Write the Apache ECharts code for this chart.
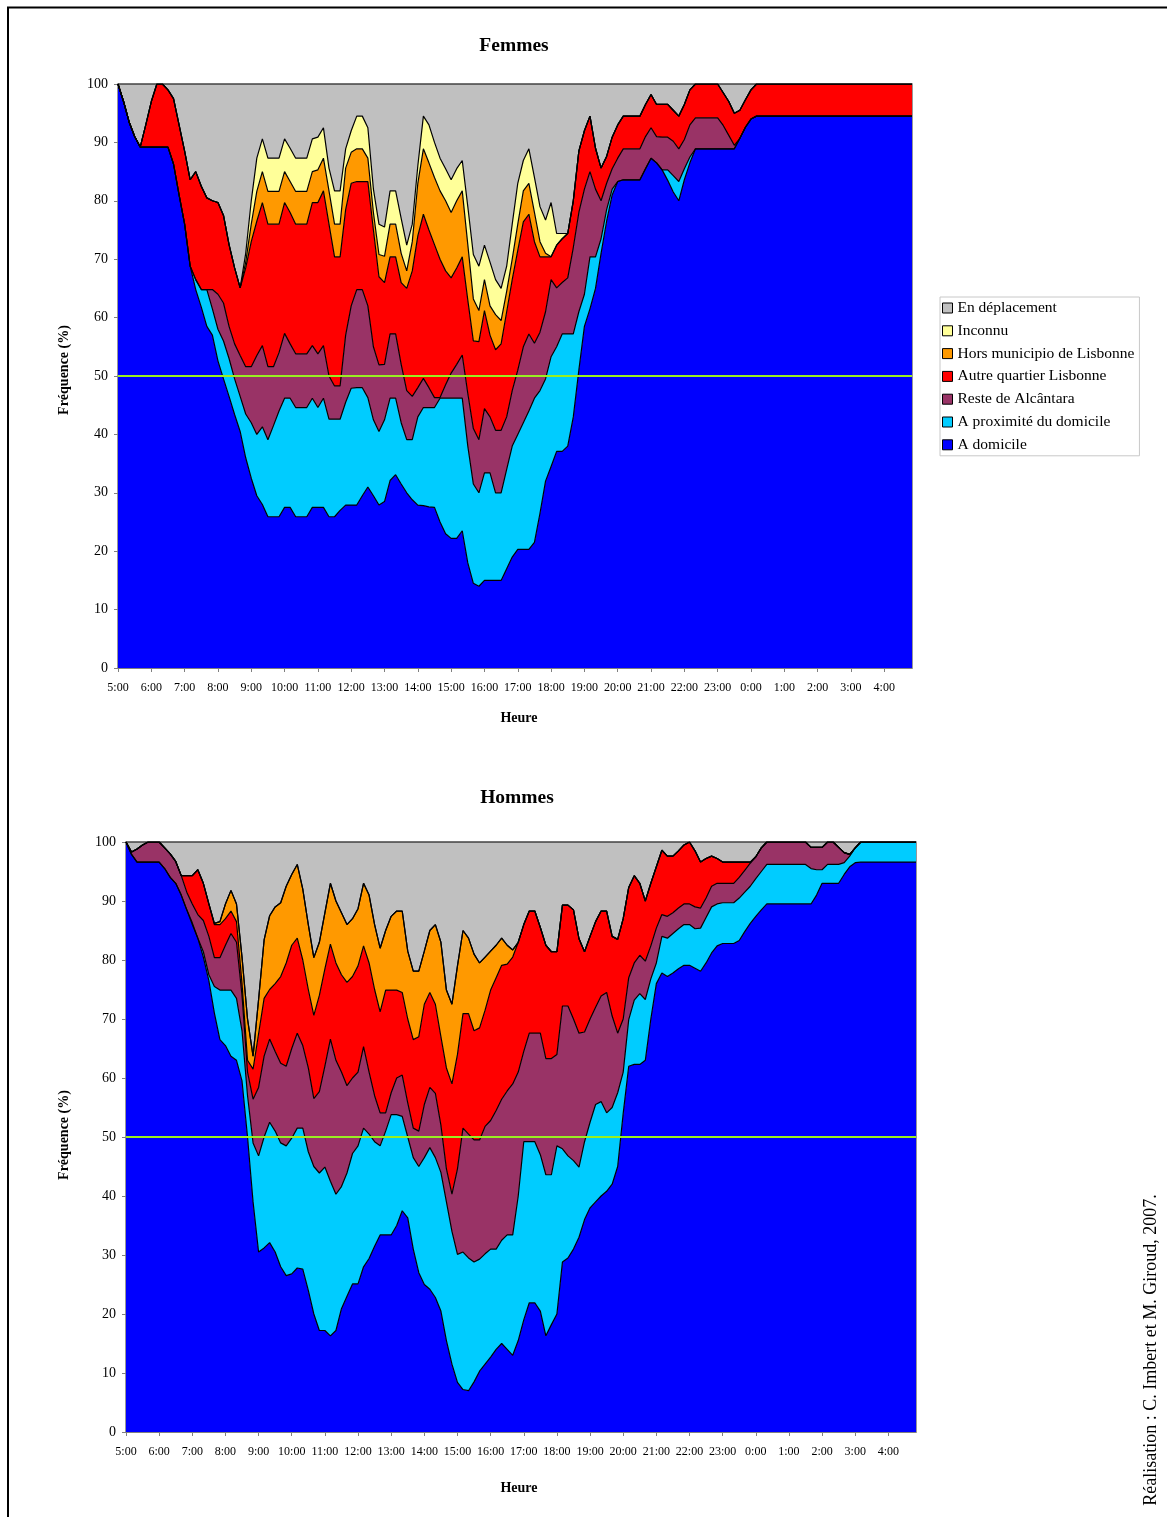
<!DOCTYPE html>
<html>
<head>
<meta charset="utf-8">
<script src="https://cdn.jsdelivr.net/npm/echarts@6/dist/echarts.min.js"></script>
<style>
html,body{margin:0;padding:0;background:#fff;}
#chart{width:1167px;height:1517px;}
</style>
</head>
<body>
<div id="chart"></div>
<script>
// ---- Categories (10-minute slots, 5:00 -> 4:50) ----
const hourLabels = ['5','6','7','8','9','10','11','12','13','14','15','16','17','18','19','20','21','22','23','0','1','2','3','4'];
const minuteSlots = ['00','10','20','30','40','50'];
const yTicks = [0,10,20,30,40,50,60,70,80,90,100];

const seriesNames = ['A domicile','A proximité du domicile','Reste de Alcântara','Autre quartier Lisbonne','Hors municipio de Lisbonne','Inconnu','En déplacement'];
const seriesColors = ['#0000FF','#00CCFF','#993366','#FF0000','#FF9900','#FFFF99','#C0C0C0'];

// ---- FEMMES: cumulative upper edge of each band (%) ----
const femmesDomicileTop = [100,97,93.5,91,89.2,89.2,89.2,89.2,89.2,89.2,
86.3,81,76,68.8,64.8,61.8,58.5,57,52.6,49.5,
46.5,43.4,40.5,36,32.5,29.5,28,25.9,25.9,25.9,
27.5,27.5,25.9,25.9,25.9,27.5,27.5,27.5,25.9,25.9,
27,27.9,27.9,27.9,29.5,31,29.5,27.9,28.5,32.1,
33.1,31.5,30,28.8,27.9,27.8,27.6,27.5,25,23,
22.2,22.2,23.5,18,14.5,14,15,15,15,15,
17,19,20.3,20.3,20.3,21.5,26.5,32,34.5,37.1,
37.1,38,43,51,58.5,61.5,65,71,76.5,81,
83.3,83.6,83.6,83.6,83.6,85.5,87.3,86.5,85.3,83.5,
81.5,80,83.6,86.5,88.9,88.9,88.9,88.9,88.9,88.9,
88.9,88.9,90.7,92.6,94,94.5,94.5,94.5,94.5,94.5,
94.5,94.5,94.5,94.5,94.5,94.5,94.5,94.5,94.5,94.5,
94.5,94.5,94.5,94.5,94.5,94.5,94.5,94.5,94.5,94.5,
94.5,94.5,94.5,94.5];
const femmesProximiteTop = [100,97,93.5,91,89.2,89.2,89.2,89.2,89.2,89.2,
86.3,81,76,68.8,66.5,64.8,64.8,61.5,58,56,
53,49.5,46.5,43.5,42,40,41.3,39.1,41.5,44,
46.2,46.2,44.6,44.6,44.6,46.2,44.6,46.2,42.6,42.6,
42.6,45.5,47.9,48,48,46.3,42.5,40.5,42.5,46.2,
46.2,42,39.1,39.1,43,44.6,44.6,44.6,46.2,46.2,
46.2,46.2,46.2,38,31.5,30,33.4,33.4,30,30,
34,38,40,42,44,46.2,47.5,49.5,53.3,55,
57.2,57.2,57.2,61,64,70.4,70.4,73.5,78.5,82,
83.3,83.6,83.6,83.6,83.6,85.5,87.3,86.5,85.3,85.3,
84.3,83.3,85.5,87.5,88.9,88.9,88.9,88.9,88.9,88.9,
88.9,88.9,90.7,92.6,94,94.5,94.5,94.5,94.5,94.5,
94.5,94.5,94.5,94.5,94.5,94.5,94.5,94.5,94.5,94.5,
94.5,94.5,94.5,94.5,94.5,94.5,94.5,94.5,94.5,94.5,
94.5,94.5,94.5,94.5];
const femmesResteTop = [100,97,93.5,91,89.2,89.2,89.2,89.2,89.2,89.2,
86.3,81,76,68.8,66.5,64.8,64.8,64.8,64,62.5,
58.5,55.5,53.5,51.6,51.6,53.5,55.2,51.6,51.6,54,
57.3,55.5,53.8,53.8,53.8,55.2,53.8,55.2,50,48.3,
48.3,57,62,64.8,64.8,62,55,51.9,52,57.2,
57.2,52,47.5,46.5,48,49.6,48,46.3,46.3,48.5,
50.5,52,53.6,47,41,39.1,44.4,43,40.7,40.7,
43,47.5,51,55,57.2,55.6,57.5,61,66.5,65.1,
66,66.8,72,78,82,85,82,80,83,85.5,
87.3,88.9,88.9,88.9,88.9,91,92.5,91,90.9,90.9,
90.2,88.9,90.5,93,94.2,94.2,94.2,94.2,94.2,92.9,
91.2,89.5,90.7,92.6,94,94.5,94.5,94.5,94.5,94.5,
94.5,94.5,94.5,94.5,94.5,94.5,94.5,94.5,94.5,94.5,
94.5,94.5,94.5,94.5,94.5,94.5,94.5,94.5,94.5,94.5,
94.5,94.5,94.5,94.5];
const femmesAutreTop = [100,97,93.5,91,89.2,93,97,100,100,99,
97.5,93,88.5,83.6,85,82.5,80.5,80,79.7,77.5,
72.5,68.5,65.1,68.5,73,76.5,79.7,76,76,76,
79.7,78,76,76,76,79.7,79.7,81.7,76,70.4,
70.4,78.5,83,83.3,83.3,83.3,75,67,66,70.4,
70.4,66,65,68,74,77.7,75,72.5,70,68,
66.8,68.5,70.4,63,56,55.9,61.2,57,54.5,55.5,
61,66.5,71.5,76.4,77.7,73,70.4,70.4,70.4,72.4,
73.5,74.4,80,88.5,92,94.5,89,85.6,87.6,90.9,
93,94.5,94.5,94.5,94.5,96.5,98.2,96.5,96.5,96.5,
95.5,94.5,96.5,99,100,100,100,100,100,98.5,
97,95,95.5,97.3,99,100,100,100,100,100,
100,100,100,100,100,100,100,100,100,100,
100,100,100,100,100,100,100,100,100,100,
100,100,100,100];
const femmesHorsTop = [100,97,93.5,91,89.2,93,97,100,100,99,
97.5,93,88.5,83.6,85,82.5,80.5,80,79.7,77.5,
72.5,68.5,65.1,69.5,76,81.6,85,81.6,81.6,81.6,
85,83.3,81.6,81.6,81.6,85,85.3,87.3,81.7,76,
76,85.6,88.3,88.9,88.9,87.3,78,70.8,70.5,76,
76,71,68,73,83,88.9,86.5,84,81.7,80,
78,80,81.7,72.5,63.2,61.2,66.5,62,60.5,59.5,
64.5,70,76,81.7,83,78,73,71,70.4,72.4,
73.5,74.4,80,88.5,92,94.5,89,85.6,87.6,90.9,
93,94.5,94.5,94.5,94.5,96.5,98.2,96.5,96.5,96.5,
95.5,94.5,96.5,99,100,100,100,100,100,98.5,
97,95,95.5,97.3,99,100,100,100,100,100,
100,100,100,100,100,100,100,100,100,100,
100,100,100,100,100,100,100,100,100,100,
100,100,100,100];
const femmesInconnuTop = [100,97,93.5,91,89.2,93,97,100,100,99,
97.5,93,88.5,83.6,85,82.5,80.5,80,79.7,77.5,
72.5,68.5,65.1,71,80,87.3,90.6,87.3,87.3,87.3,
90.6,89,87.3,87.3,87.3,90.6,90.9,92.5,85.6,81.7,
81.7,88.9,92,94.5,94.5,92.5,82,76,75.5,81.7,
81.7,77,72.4,76,86,94.5,93,90,87.3,85.5,
83.6,85.5,86.9,79,70.8,68.8,72.4,69.5,66.5,65,
68.8,76,83,86.9,88.9,84,79,76.7,79.7,74.4,
74.4,74.4,80,88.5,92,94.5,89,85.6,87.6,90.9,
93,94.5,94.5,94.5,94.5,96.5,98.2,96.5,96.5,96.5,
95.5,94.5,96.5,99,100,100,100,100,100,98.5,
97,95,95.5,97.3,99,100,100,100,100,100,
100,100,100,100,100,100,100,100,100,100,
100,100,100,100,100,100,100,100,100,100,
100,100,100,100];

// ---- HOMMES: cumulative upper edge of each band (%) ----
const hommesDomicileTop = [100,97.9,96.6,96.6,96.6,96.6,96.6,95.5,94,93,
91,88.5,86,83.7,80.5,76.5,71,66.5,65.5,63.7,
63,59.5,50,39,30.5,31.2,32.1,30.5,28,26.5,
26.8,27.8,27.6,24,20,17.2,17.2,16.3,17.2,20.9,
23,25.1,25.1,28,29.4,31.5,33.4,33.4,33.4,35,
37.5,36.3,31,27,25,24.2,22.8,20.5,15.5,11.5,
8.4,7.2,7,8.5,10.3,11.5,12.7,14,15,14,
13,15.5,19,21.9,21.9,20.5,16.3,18.2,20,28.8,
29.5,31,33,36,38,39,40,40.8,42,45,
54,62,62.3,62.3,63,70,76,77.8,77.2,77.8,
78.5,79.1,79.1,78.6,78.1,79.5,81.2,82.4,82.8,82.8,
82.8,83.3,84.8,86.2,87.4,88.5,89.5,89.5,89.5,89.5,
89.5,89.5,89.5,89.5,89.5,91,93,93,93,93,
94.5,95.8,96.5,96.6,96.6,96.6,96.6,96.6,96.6,96.6,
96.6,96.6,96.6,96.6];
const hommesProximiteTop = [100,97.9,96.6,96.6,96.6,96.6,96.6,95.5,94,93,
91,88.5,86.3,83.7,81.4,77.5,75.5,74.9,74.9,74.9,
73.5,68,57,49,46.8,50,52.5,51,49,48.5,
49.8,51.5,51.5,47.5,45,43.9,44.9,42.5,40.3,41.6,
43.9,47.2,48.5,51.5,50.5,49.2,48.5,51,53.8,53.8,
53.5,50,46.5,45,46.5,48.2,46.5,44,39,34,
30.1,30.5,29.5,28.8,29.3,30.2,31,31,32.5,33.4,
33.4,40,49.2,49.2,49.2,47,43.6,43.6,48.5,48,
46.8,46,44.9,49.2,52.5,55.5,56,54.1,55,57.5,
61,69.9,73.2,74.3,73.3,76.8,79.5,84,83.7,84.5,
85.3,86,86,85.3,85.4,87.2,89,89.5,89.7,89.7,
89.7,90.5,91.5,92.5,93.8,95,96.2,96.2,96.2,96.2,
96.2,96.2,96.2,96.2,95.5,95.3,95.3,96.2,96.2,96.2,
96.5,97.6,99,100,100,100,100,100,100,100,
100,100,100,100];
const hommesResteTop = [100,98.3,98.8,99.5,100,100,100,99,98,96.7,
94.3,91.5,89.5,87.7,86.7,84,80.4,80.4,82.5,84.5,
83,74,61,56.4,58.4,63.7,66.6,64.5,62.5,62,
65,67.6,65.5,61.7,56.5,57.7,62,66.6,63,61,
58.7,60,61,65.3,61,57,54.1,54.1,57.5,60,
60.5,55.8,51.5,51,55.5,58.4,57.4,52,44.6,40.3,
44.6,51.5,50.5,49.5,49.5,51.8,52.8,54.5,56.4,57.8,
59,61,64.5,67.6,67.6,67.6,63.3,63.3,64,72.2,
72.2,70,67.6,67.8,70,72,73.9,74.5,70.5,67.6,
70,77,79.5,80.8,79.8,82.4,85.4,87.7,87.4,88,
88.8,89.5,89.5,89,88.8,90.5,92.5,93,93,93,
93,94,95.2,96.4,97.5,99,100,100,100,100,
100,100,100,100,99.1,99.1,99.1,100,100,99.1,
98.2,97.9,99,100,100,100,100,100,100,100,
100,100,100,100];
const hommesAutreTop = [100,98.3,98.8,99.5,100,100,100,99,98,96.7,
94.3,94.3,94.3,95.3,93,89.5,86,86,87,88.3,
86.5,76,63,61.5,67.5,73.5,75,76,77.2,79.5,
82.5,83.7,80,75,70.6,74,78.5,82.7,79.5,77.5,
76.2,77.2,79,82.4,79.5,75,71.2,74.9,74.9,74.9,
74.5,70,66.5,67,72.5,74.5,72.5,67,61.7,59,
64,70.9,70.9,68,68.5,71.5,74.9,77,79.1,79.3,
80.5,83,86,88.3,88.3,85.5,82.5,81.4,81.4,89.3,
89.3,88.5,83.6,81.4,84,86.5,88.3,88.3,84,83.5,
87,92.3,94.3,93,90,93,95.8,98.6,97.6,97.6,
98.5,99.5,100,98.5,96.6,97.2,97.6,97.2,96.6,96.6,
96.6,96.6,96.6,96.6,97.5,99,100,100,100,100,
100,100,100,100,99.1,99.1,99.1,100,100,99.1,
98.2,97.9,99,100,100,100,100,100,100,100,
100,100,100,100];
const hommesHorsTop = [100,98.3,98.8,99.5,100,100,100,99,98,96.7,
94.3,94.3,94.3,95.3,93,89.5,86.2,86.5,89.5,91.8,
89.5,80.5,70,63.7,73.3,83.4,87.5,89,89.7,92.5,
94.5,96.2,92,86,80.4,83,88,93,90,88,
86,87,88.7,93,91,86,82,85,87.4,88.3,
88.3,81.5,78.1,78.1,81.5,85,86,83,74.9,72.5,
79,85,83.7,81,79.5,80.5,81.5,82.5,83.7,82.5,
81.7,83,86,88.3,88.3,85.5,82.5,81.4,81.4,89.3,
89.3,88.5,83.6,81.4,84,86.5,88.3,88.3,84,83.5,
87,92.3,94.3,93,90,93,95.8,98.6,97.6,97.6,
98.5,99.5,100,98.5,96.6,97.2,97.6,97.2,96.6,96.6,
96.6,96.6,96.6,96.6,97.5,99,100,100,100,100,
100,100,100,100,99.1,99.1,99.1,100,100,99.1,
98.2,97.9,99,100,100,100,100,100,100,100,
100,100,100,100];
const hommesInconnuTop = hommesHorsTop; // no "Inconnu" band visible for men

// ---- build ----
const categories = [];
hourLabels.forEach(h => minuteSlots.forEach(m => categories.push(h + ':' + m)));

function bandValues(edges) {
  edges.forEach((e, k) => { if (e.length !== categories.length) throw new Error('bad length ' + k + ': ' + e.length); });
  const tops = edges.concat([categories.map(() => 100)]);
  return tops.map((arr, k) => arr.map((v, i) => {
    const base = k ? tops[k - 1][i] : 0;
    return Math.max(0, Math.round((v - base) * 100) / 100);
  }));
}
const femmesBands = bandValues([femmesDomicileTop, femmesProximiteTop, femmesResteTop, femmesAutreTop, femmesHorsTop, femmesInconnuTop]);
const hommesBands = bandValues([hommesDomicileTop, hommesProximiteTop, hommesResteTop, hommesAutreTop, hommesHorsTop, hommesInconnuTop]);

const FONT = '"Liberation Serif", "Times New Roman", serif';

function makeSeries(bands, g) {
  return bands.map((data, k) => {
    const s = {
      type: 'line', name: seriesNames[k], xAxisIndex: g, yAxisIndex: g, stack: 'st' + g,
      data: data, symbol: 'none', showSymbol: false, smooth: false,
      lineStyle: { color: '#000', width: 1.2 },
      itemStyle: { color: seriesColors[k] },
      areaStyle: { color: seriesColors[k], opacity: 1 },
      emphasis: { disabled: true }, silent: true, animation: false
    };
    if (k === bands.length - 1) {
      s.markLine = {
        silent: true, symbol: 'none', animation: false,
        label: { show: false },
        lineStyle: { color: '#99ee22', width: 2, type: 'solid' },
        data: [{ yAxis: 50 }]
      };
    }
    return s;
  });
}

function xAxisFor(g) {
  return {
    type: 'category', gridIndex: g, data: categories, boundaryGap: false,
    axisLine: { show: true, lineStyle: { color: '#808080', width: 1 } },
    axisTick: { show: true, interval: 5, length: 4, lineStyle: { color: '#808080' } },
    axisLabel: { interval: 5, fontSize: 12, fontFamily: FONT, color: '#000', margin: 14 },
    splitLine: { show: false }
  };
}
function yAxisFor(g) {
  return {
    type: 'value', gridIndex: g, min: 0, max: 100, interval: 10,
    axisLine: { show: true, lineStyle: { color: '#808080' } },
    axisTick: { show: true, length: 4, lineStyle: { color: '#808080' } },
    axisLabel: { fontSize: 14, fontFamily: FONT, color: '#000', margin: 10 },
    splitLine: { show: false }
  };
}

function txt(text, x, y, size, bold, rot) {
  return {
    type: 'text', x: x, y: y, rotation: rot || 0, silent: true,
    style: { text: text, font: (bold ? 'bold ' : '') + size + 'px ' + FONT, fill: '#000', textAlign: 'center', textVerticalAlign: 'middle' }
  };
}

const chart = echarts.init(document.getElementById('chart'), null, { renderer: 'canvas', width: 1167, height: 1517 });
chart.setOption({
  animation: false,
  backgroundColor: '#fff',
  grid: [
    { left: 118, top: 84, width: 794, height: 584, show: true, borderColor: '#777', borderWidth: 1.5, backgroundColor: '#fff', containLabel: false, outerBoundsMode: 'none' },
    { left: 126, top: 842, width: 790, height: 590, show: true, borderColor: '#777', borderWidth: 1.5, backgroundColor: '#fff', containLabel: false, outerBoundsMode: 'none' }
  ],
  xAxis: [xAxisFor(0), xAxisFor(1)],
  yAxis: [yAxisFor(0), yAxisFor(1)],
  legend: {
    orient: 'vertical', left: 940, top: 297,
    selectedMode: false,
    itemWidth: 10, itemHeight: 10, itemGap: 6.8,
    padding: [3, 5, 3, 2],
    borderColor: '#c8c8c8', borderWidth: 1, backgroundColor: '#fff',
    textStyle: { fontSize: 15.5, fontFamily: FONT, color: '#000' },
    data: seriesNames.map((n, k) => ({ name: n, icon: 'rect', itemStyle: { color: seriesColors[k], borderColor: '#000', borderWidth: 1 } })).reverse()
  },
  graphic: [
    { type: 'rect', silent: true, shape: { x: 8, y: 7.5, width: 1400, height: 1700 }, style: { fill: 'none', stroke: '#000', lineWidth: 2 } },
    txt('Femmes', 514, 46, 19.5, true),
    txt('Hommes', 517, 798, 19.5, true),
    txt('Heure', 519, 718, 14, true),
    txt('Heure', 519, 1488, 14, true),
    txt('Fréquence (%)', 64, 370, 14, true, Math.PI / 2),
    txt('Fréquence (%)', 64, 1135, 14, true, Math.PI / 2),
    txt('Réalisation : C. Imbert et M. Giroud, 2007.', 1151, 1350, 18, false, Math.PI / 2)
  ],
  series: makeSeries(femmesBands, 0).concat(makeSeries(hommesBands, 1))
});
</script>
</body>
</html>
